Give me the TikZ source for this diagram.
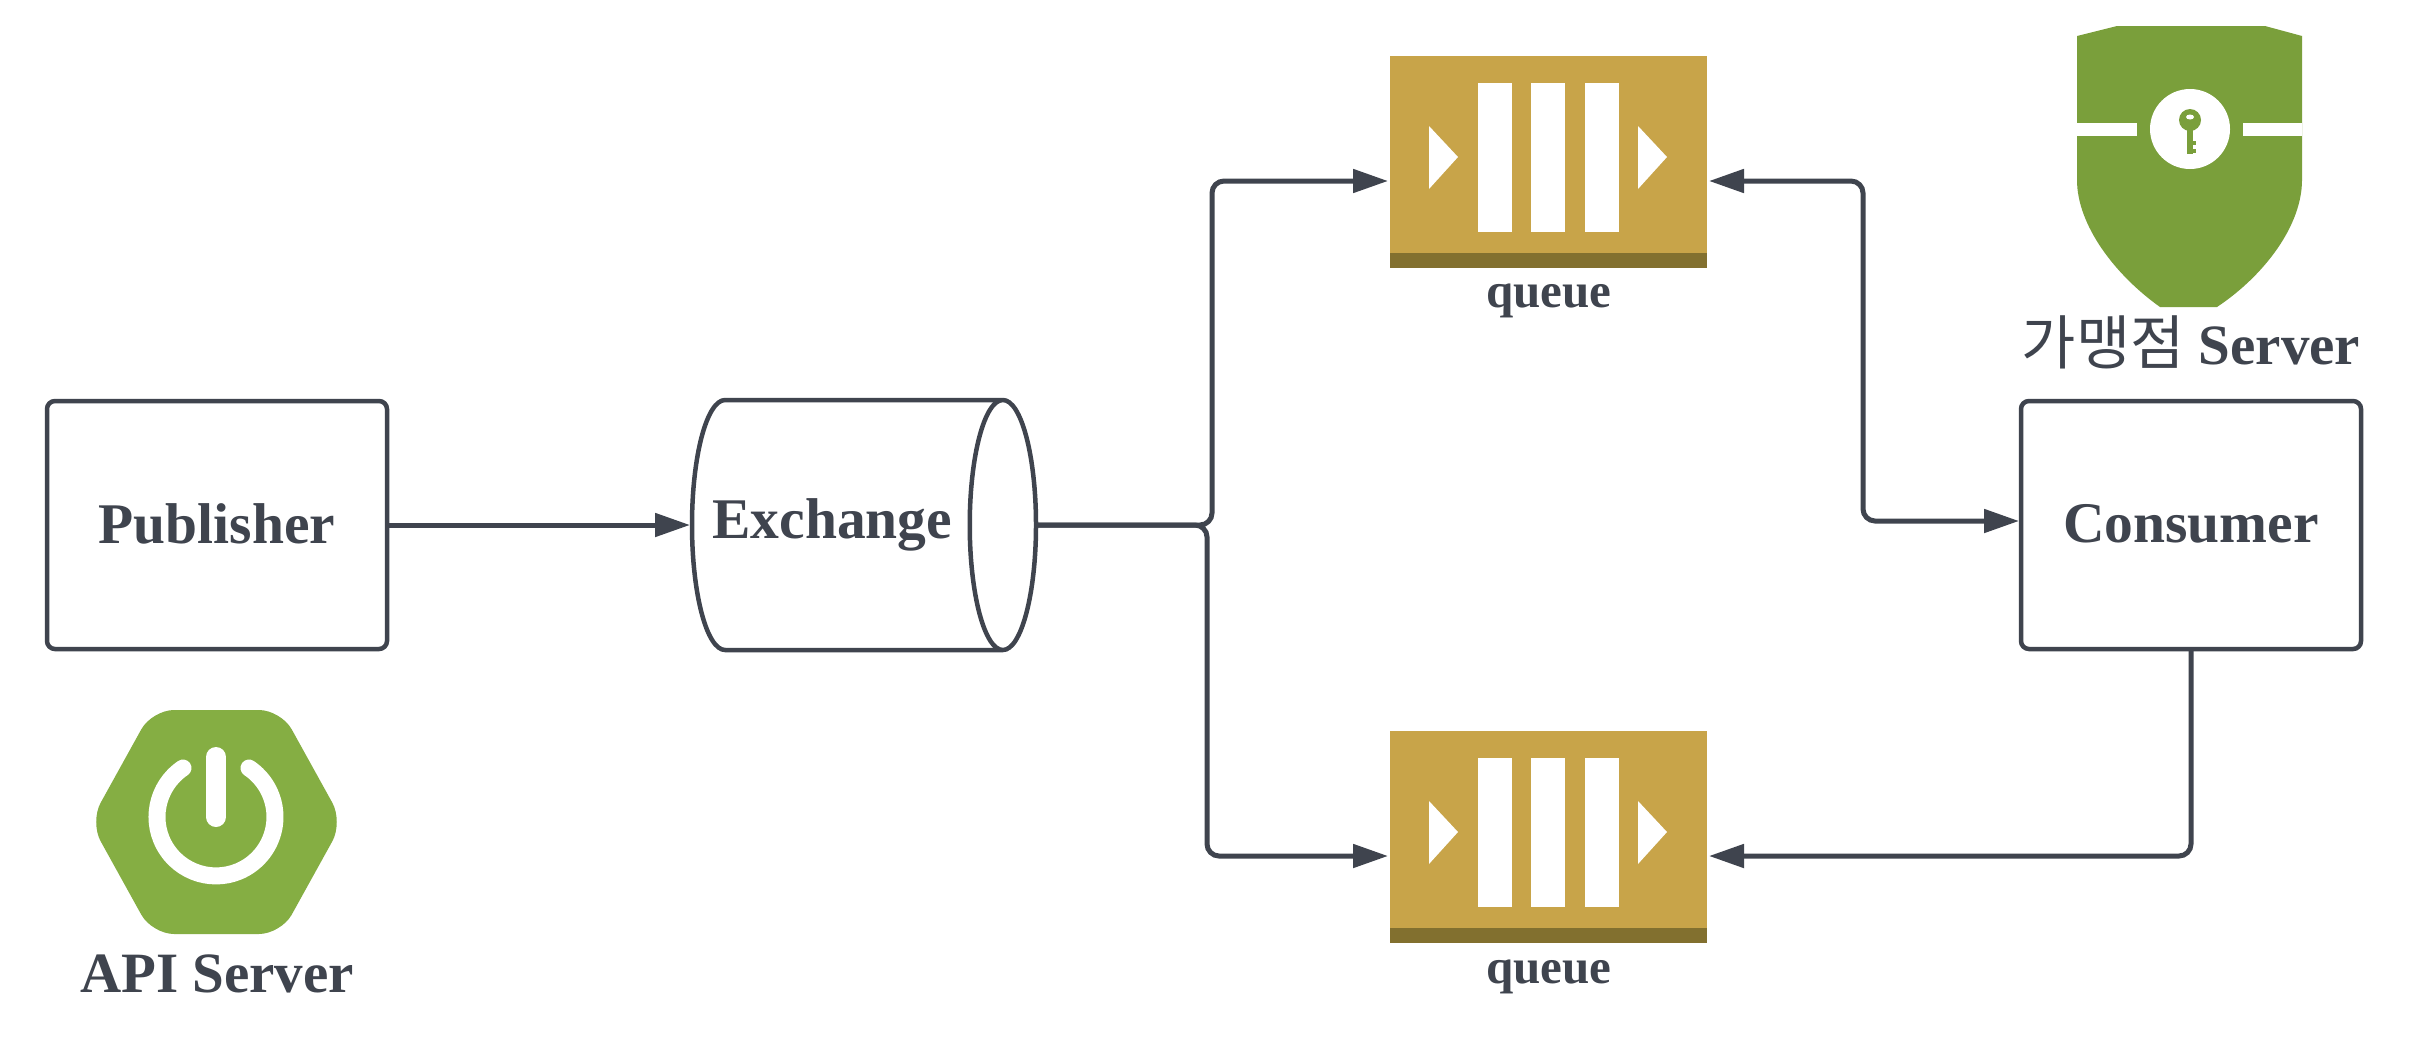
\documentclass[tikz,border=0pt]{standalone}
\usepackage{fontspec}
\setmainfont{Liberation Serif}
\newfontfamily\krfont{Noto Sans CJK KR}
\usetikzlibrary{arrows.meta,shapes.geometric}
\definecolor{ink}{HTML}{3F444E}
\definecolor{springg}{HTML}{85AE43}
\definecolor{shieldg}{HTML}{7A9F3B}
\definecolor{qgold}{HTML}{C8A449}
\definecolor{qdark}{HTML}{82702F}
\tikzset{
  boxnode/.style={draw=ink,line width=4.5pt,rounded corners=8pt,fill=white,minimum width=340pt,minimum height=248pt,inner sep=0pt,outer sep=0pt,font=\fontsize{57.5}{60}\selectfont\bfseries,text=ink},
  cylnode/.style={cylinder,draw=ink,line width=4.5pt,shape aspect=1.26,minimum width=250pt,minimum height=344pt,inner sep=0pt,outer sep=0pt,font=\fontsize{57.5}{60}\selectfont\bfseries,text=ink},
  queuenode/.style={fill=qgold,minimum width=317pt,minimum height=212pt,inner sep=0pt,outer sep=0pt},
  qlabel/.style={font=\fontsize{49}{52}\selectfont\bfseries,text=ink,inner sep=0pt},
  biglabel/.style={font=\fontsize{57}{60}\selectfont\bfseries,text=ink,inner sep=0pt},
  link/.style={draw=ink,line width=5pt,rounded corners=12pt},
  tip/.style={-{Triangle[length=35pt,width=23pt]},shorten >=2pt},
  tips/.style={{Triangle[length=35pt,width=23pt]}-{Triangle[length=35pt,width=23pt]},shorten >=2pt,shorten <=2pt},
  whitepart/.style={fill=white,draw=none}
}
\newcommand{\queueicon}[1]{%
  \begin{scope}[yshift=-#1pt]
    \fill[qdark] (1390,253) rectangle (1707,268);
    \fill[whitepart] (1478,83) rectangle (1512,232);
    \fill[whitepart] (1531,83) rectangle (1565,232);
    \fill[whitepart] (1585,83) rectangle (1619,232);
    \fill[whitepart] (1429,126) -- (1458,157) -- (1429,189) -- cycle;
    \fill[whitepart] (1638,126) -- (1667,157) -- (1638,189) -- cycle;
  \end{scope}}
\begin{document}
\begin{tikzpicture}[x=1pt,y=-1pt]
\useasboundingbox (0,0) rectangle (2418,1058);
\fill[white] (0,0) rectangle (2418,1058);

% boxes
\node[boxnode] (pub) at (217,525) {\raisebox{3pt}{Publisher}};
\node[boxnode] (con) at (2191,525) {\raisebox{3pt}{Consumer}};
\node[cylnode,anchor=west] (ex) at (692,525) {\hspace*{-28pt}Exchange};

% queues
\node[queuenode] (q1) at (1548.5,162) {};
\node[queuenode] (q2) at (1548.5,837) {};
\queueicon{0}
\queueicon{675}
\node[qlabel] (q1t) at (1549,301) {queue};
\node[qlabel] (q2t) at (1549,977) {queue};

% spring icon
\fill[springg,rounded corners=22pt] (152,710) -- (281,710) -- (343,822) -- (281,934) -- (152,934) -- (90,822) -- cycle;
\draw[white,line width=17pt,line cap=round] (183,768) arc[start angle=124,end angle=416,radius=59pt];
\draw[white,line width=20pt,line cap=round] (216,757) -- (216,817);
\node[biglabel,anchor=base] (api) at (217,992) {API Server};

% shield icon
\fill[shieldg] (2077,36) -- (2117,26) -- (2265,26) -- (2302,36) -- (2302,180)
  .. controls (2302,225) and (2265,275) .. (2217,307) -- (2160,307)
  .. controls (2115,275) and (2077,225) .. (2077,180) -- cycle;
\fill[white] (2077,123) rectangle (2137,136);
\fill[white] (2243,123) rectangle (2302,136);
\fill[white] (2190,129) circle[radius=40pt];
\fill[shieldg] (2190,120) circle[radius=11pt];
\fill[shieldg] (2187,122) rectangle (2193,154);
\fill[shieldg] (2193,141) rectangle (2196,145);
\fill[shieldg] (2193,149) rectangle (2196,153);
\fill[white] (2190,117) ellipse[x radius=4pt,y radius=2.5pt];
\node[biglabel,anchor=base] (kr) at (2191,364) {{\krfont\mdseries\fontsize{59}{60}\selectfont 가맹점} Server};

% named bends
\coordinate (upbend) at (1212,350);
\coordinate (downbend) at (1207,700);
\coordinate (rbend) at (1863,350);

% connectors
\draw[link,tip] (pub.east) -- (ex.west);
\draw[link,tip] (ex.east) -| (upbend) |- ([yshift=-19pt]q1.west);
\draw[link,tip] (ex.east) -| (downbend) |- ([yshift=-19pt]q2.west);
\draw[link,tips] ([yshift=-19pt]q1.east) -| (rbend) |- ([yshift=4pt]con.west);
\draw[link,tip] (con.south) |- ([yshift=-19pt]q2.east);
\end{tikzpicture}
\end{document}
